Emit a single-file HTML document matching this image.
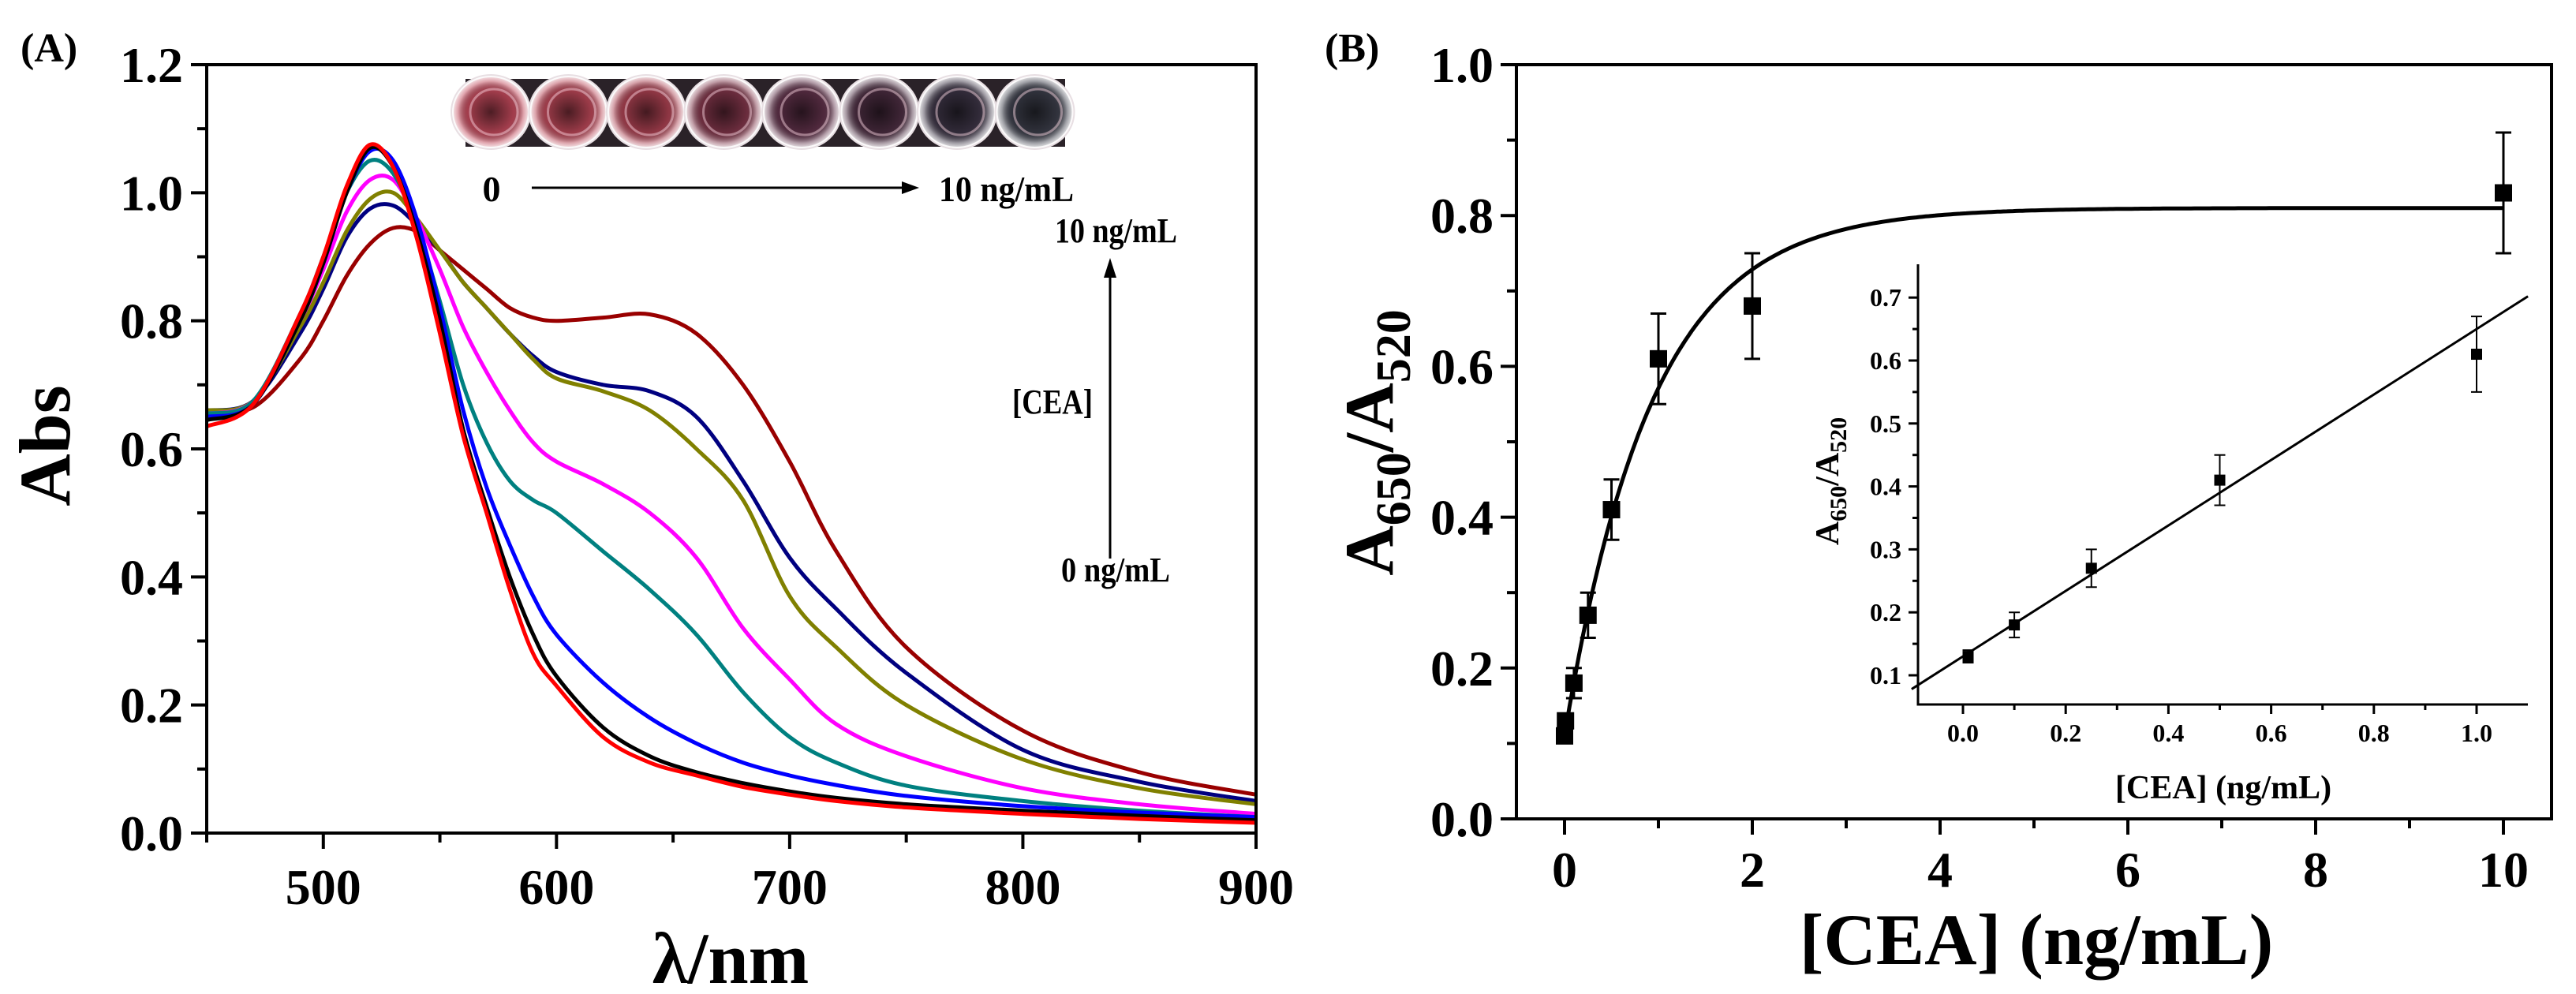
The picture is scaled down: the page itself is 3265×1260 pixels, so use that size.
<!DOCTYPE html>
<html><head><meta charset="utf-8"><style>
html,body{margin:0;padding:0;background:#fff;}
svg text{font-family:"Liberation Serif",serif;font-weight:bold;fill:#000;}
</style></head><body>
<svg id="fig" xmlns="http://www.w3.org/2000/svg" width="3265" height="1255" viewBox="0 0 3265 1255">
<defs>
<radialGradient id="wellg" cx="50%" cy="50%" r="50%"><stop offset="0%" stop-color="#000" stop-opacity="0.6"/><stop offset="60%" stop-color="#000" stop-opacity="0.15"/><stop offset="85%" stop-color="#fff" stop-opacity="0.5"/><stop offset="100%" stop-color="#fff" stop-opacity="0.9"/></radialGradient>
</defs>
<g id="panelA"></g>
<g id="panelB"></g>
</svg>
<script>
// ---------- Panel A data ----------
const wavelengths = [450,470,490,500,510,520,530,540,550,560,570,580,590,600,620,640,660,680,700,720,750,800,850,900];
const absRed     = [.635,.67,.81,.90,1.01,1.075,1.04,.93,.78,.62,.50,.38,.28,.23,.15,.11,.09,.072,.06,.05,.04,.03,.022,.016];
const absBlack   = [.645,.67,.80,.89,1.0,1.07,1.04,.94,.80,.63,.51,.40,.31,.245,.165,.12,.095,.078,.065,.055,.045,.035,.027,.02];
const absBlue    = [.65,.67,.80,.89,1.0,1.065,1.05,.96,.82,.66,.54,.45,.37,.31,.235,.18,.14,.11,.09,.075,.058,.042,.032,.025];
const absTeal    = [.655,.675,.81,.90,1.0,1.05,1.03,.95,.83,.70,.61,.55,.52,.50,.44,.38,.31,.22,.15,.11,.074,.05,.035,.025];
const absMagenta = [.655,.675,.80,.88,.97,1.02,1.02,.96,.88,.79,.72,.66,.61,.58,.545,.50,.43,.32,.24,.17,.12,.07,.045,.03];
const absOlive   = [.66,.675,.79,.86,.94,.99,1.0,.96,.91,.86,.82,.78,.74,.71,.69,.66,.60,.52,.37,.29,.20,.115,.07,.045];
const absNavy    = [.66,.675,.78,.85,.93,.975,.98,.95,.91,.86,.82,.78,.745,.72,.70,.69,.65,.55,.43,.35,.25,.13,.08,.05];
const absDarkred = [.66,.665,.74,.80,.87,.92,.945,.94,.91,.88,.85,.82,.805,.80,.805,.81,.78,.70,.58,.44,.29,.16,.095,.06];
const seriesNames = ["0","0.01","0.1","0.25","0.5","1","2","10"];
const seriesColors = ["#ff0000","#000000","#0000ff","#008080","#ff00ff","#808000","#000080","#990000"];
const xTicksA = [500,600,700,800,900];
const yTicksA = ["0.0","0.2","0.4","0.6","0.8","1.0","1.2"];

// ---------- Panel B data ----------
const concB = [0,0.01,0.1,0.25,0.5,1,2,10];
const ratioB = [0.11,0.13,0.18,0.27,0.41,0.61,0.68,0.83];
const errB = [0,0,0.02,0.03,0.04,0.06,0.07,0.08];
const fitTop = 0.81, fitBase = 0.11, fitTau = 0.93;
const xTicksB = [0,2,4,6,8,10];
const yTicksB = ["0.0","0.2","0.4","0.6","0.8","1.0"];
const concInset = [0.01,0.1,0.25,0.5,1.0];
const ratioInset = [0.13,0.18,0.27,0.41,0.61];
const errInset = [0.01,0.02,0.03,0.04,0.06];
const linSlope = 0.52, linIntercept = 0.13;
const xTicksInset = ["0.0","0.2","0.4","0.6","0.8","1.0"];
const yTicksInset = ["0.1","0.2","0.3","0.4","0.5","0.6","0.7"];

const NS="http://www.w3.org/2000/svg";
function mk(parent,tag,attrs,text){const e=document.createElementNS(NS,tag);for(const k in attrs)e.setAttribute(k,attrs[k]);if(text!==undefined)e.textContent=text;parent.appendChild(e);return e;}

// ===== Panel A =====
const A=document.getElementById('panelA');
const AL=262,AR=1592,AT=82,AB=1056;
const axA=v=>AL+(v-450)/450*(AR-AL);
const ayA=v=>AB-v/1.2*(AB-AT);

// photo strip
const photo=mk(A,'g',{});


mk(photo,'rect',{x:590,y:100,width:760,height:86,fill:'#2a2228'});
const wellCols=["#c0485a","#b84656","#a94050","#7e3448","#5e3048","#4a2c40","#3b3344","#3a3c48"];
for(let i=0;i<8;i++){
  const cx=622+i*98.5, cy=142;
  const w=mk(photo,'ellipse',{cx:cx,cy:cy,rx:49,ry:46,fill:wellCols[i],stroke:'#e8dfe3','stroke-width':4});
  
  
  mk(photo,'ellipse',{cx:cx,cy:cy,rx:49,ry:46,fill:'url(#wellg)'});
  mk(photo,'ellipse',{cx:cx+4,cy:cy,rx:30,ry:29,fill:'none',stroke:'rgba(255,220,230,0.45)','stroke-width':3});
}
let t;
t=mk(A,'text',{x:623,y:255,'font-size':46,'text-anchor':'middle'},'0');

mk(A,'line',{x1:674,y1:238,x2:1145,y2:238,stroke:'#000','stroke-width':3});
mk(A,'polygon',{points:'1165,238 1143,230 1143,246',fill:'#000'});
t=mk(A,'text',{x:1190,y:255,'font-size':46,textLength:171,lengthAdjust:'spacingAndGlyphs'},'10 ng/mL');

t=mk(A,'text',{x:1337,y:307,'font-size':44,textLength:155,lengthAdjust:'spacingAndGlyphs'},'10 ng/mL');

mk(A,'line',{x1:1407,y1:350,x2:1407,y2:708,stroke:'#000','stroke-width':3});
mk(A,'polygon',{points:'1407,327 1399,352 1415,352',fill:'#000'});
t=mk(A,'text',{x:1283,y:524,'font-size':44,textLength:102,lengthAdjust:'spacingAndGlyphs'},'[CEA]');

t=mk(A,'text',{x:1345,y:737,'font-size':44,textLength:138,lengthAdjust:'spacingAndGlyphs'},'0 ng/mL');


// curves (Catmull-Rom)
function crPath(xs,ys){
  const P=xs.map((x,i)=>[x,ys[i]]);
  let d='M'+P[0][0].toFixed(1)+','+P[0][1].toFixed(1);
  for(let i=0;i<P.length-1;i++){
    const p0=P[Math.max(0,i-1)],p1=P[i],p2=P[i+1],p3=P[Math.min(P.length-1,i+2)];
    const c1=[p1[0]+(p2[0]-p0[0])/6,p1[1]+(p2[1]-p0[1])/6];
    const c2=[p2[0]-(p3[0]-p1[0])/6,p2[1]-(p3[1]-p1[1])/6];
    d+=' C'+c1[0].toFixed(1)+','+c1[1].toFixed(1)+' '+c2[0].toFixed(1)+','+c2[1].toFixed(1)+' '+p2[0].toFixed(1)+','+p2[1].toFixed(1);
  }
  return d;
}
const allSeries=[absRed,absBlack,absBlue,absTeal,absMagenta,absOlive,absNavy,absDarkred];
const drawOrder=[7,6,5,4,3,2,1,0];
drawOrder.forEach(i=>{
  const p=mk(A,'path',{d:crPath(wavelengths.map(axA),allSeries[i].map(ayA)),fill:'none',stroke:seriesColors[i],'stroke-width':5,'stroke-linejoin':'round'});
  
  
});

// axes A
const fA=mk(A,'rect',{x:AL,y:AT,width:AR-AL,height:AB-AT,fill:'none',stroke:'#000','stroke-width':4});

for(let v=450;v<=900;v+=50){const x=axA(v);const maj=v%100===0;mk(A,'line',{x1:x,y1:AB,x2:x,y2:AB+(maj?20:12),stroke:'#000','stroke-width':4});}
xTicksA.forEach(v=>{const tt=mk(A,'text',{x:axA(v),y:1146,'font-size':64,'text-anchor':'middle'},String(v));
  });
for(let k=0;k<=12;k++){const y=ayA(k*0.1);mk(A,'line',{x1:AL,y1:y,x2:AL-(k%2===0?20:12),y2:y,stroke:'#000','stroke-width':4});}
yTicksA.forEach(s=>{const tt=mk(A,'text',{x:232,y:ayA(parseFloat(s))+22,'font-size':64,'text-anchor':'end'},s);
  });
t=mk(A,'text',{x:0,y:0,'font-size':92,'text-anchor':'middle',transform:'translate(88,565) rotate(-90)'},'Abs');

t=mk(A,'text',{x:926,y:1246,'font-size':92,'text-anchor':'middle'},'λ/nm');

t=mk(A,'text',{x:26,y:78,'font-size':52},'(A)');


// ===== Panel B =====
const B=document.getElementById('panelB');
const BL=1922,BR=3234,BT=82,BB=1038;
const bx=v=>1983+v*119;
const by=v=>BB-v*(BB-BT);
const fB=mk(B,'rect',{x:BL,y:BT,width:BR-BL,height:BB-BT,fill:'none',stroke:'#000','stroke-width':4});

for(let v=0;v<=10;v++){const x=bx(v);mk(B,'line',{x1:x,y1:BB,x2:x,y2:BB+(v%2===0?20:12),stroke:'#000','stroke-width':4});}
xTicksB.forEach(v=>{const tt=mk(B,'text',{x:bx(v),y:1124,'font-size':64,'text-anchor':'middle'},String(v));
  });
for(let k=0;k<=10;k++){const y=by(k*0.1);mk(B,'line',{x1:BL,y1:y,x2:BL-(k%2===0?20:12),y2:y,stroke:'#000','stroke-width':4});}
yTicksB.forEach(s=>{const tt=mk(B,'text',{x:1893,y:by(parseFloat(s))+22,'font-size':64,'text-anchor':'end'},s);
  });
t=mk(B,'text',{x:0,y:0,'font-size':88,'text-anchor':'middle',transform:'translate(1765,561) rotate(-90)'});

t.innerHTML='A<tspan font-size="62" dy="22">650</tspan><tspan dy="-22">/A</tspan><tspan font-size="62" dy="22">520</tspan>';
t=mk(B,'text',{x:2581,y:1222,'font-size':92,'text-anchor':'middle'},'[CEA] (ng/mL)');

t=mk(B,'text',{x:1679,y:78,'font-size':52},'(B)');

// fit curve
let d='';
for(let i=0;i<=300;i++){const x=0.02+i*(10-0.02)/300;const y=fitTop-(fitTop-fitBase)*Math.exp(-x/fitTau);d+=(i?' L':'M')+bx(x).toFixed(1)+','+by(y).toFixed(1);}
const fit=mk(B,'path',{d:d,fill:'none',stroke:'#000','stroke-width':5});

concB.forEach((c,i)=>{
  const x=bx(c),y=by(ratioB[i]);
  if(errB[i]>0){
    const e=mk(B,'path',{d:`M${x},${by(ratioB[i]+errB[i])}V${by(ratioB[i]-errB[i])}M${x-10},${by(ratioB[i]+errB[i])}h20M${x-10},${by(ratioB[i]-errB[i])}h20`,stroke:'#000','stroke-width':3,fill:'none'});
    
  }
  const m=mk(B,'rect',{x:x-11,y:y-11,width:22,height:22,fill:'#000'});
  
});

// inset
const IL=2431,IR=3204,IT=335,IB=893;
const ix=v=>2488+v*651;
const iy=v=>856-(v-0.1)*798;
const ia=mk(B,'path',{d:`M${IL},${IT}V${IB}H${IR}`,fill:'none',stroke:'#000','stroke-width':3});

for(let k=-1;k<=10;k++){const x=ix(k*0.1);if(x<IL)continue;mk(B,'line',{x1:x,y1:IB,x2:x,y2:IB+(k%2===0?12:7),stroke:'#000','stroke-width':3});}
xTicksInset.forEach(s=>{const tt=mk(B,'text',{x:ix(parseFloat(s)),y:940,'font-size':32,'text-anchor':'middle'},s);
  });
for(let k=1;k<=14;k++){const v=k*0.05;const y=iy(v);if(y>IB||y<IT)continue;mk(B,'line',{x1:IL,y1:y,x2:IL-(k%2===0?12:7),y2:y,stroke:'#000','stroke-width':3});}
yTicksInset.forEach(s=>{const tt=mk(B,'text',{x:2410,y:iy(parseFloat(s))+11,'font-size':32,'text-anchor':'end'},s);
  });
t=mk(B,'text',{x:2818,y:1012,'font-size':42,'text-anchor':'middle'},'[CEA] (ng/mL)');

t=mk(B,'text',{x:0,y:0,'font-size':42,'text-anchor':'middle',transform:'translate(2330,610) rotate(-90)'});

t.innerHTML='A<tspan font-size="30" dy="10">650</tspan><tspan dy="-10">/A</tspan><tspan font-size="30" dy="10">520</tspan>';
const x0=-0.1,x1=1.1;
const ln=mk(B,'line',{x1:ix(x0),y1:iy(linIntercept+linSlope*x0),x2:ix(x1),y2:iy(linIntercept+linSlope*x1),stroke:'#000','stroke-width':3});

concInset.forEach((c,i)=>{
  const x=ix(c),y=iy(ratioInset[i]);
  const e=mk(B,'path',{d:`M${x},${iy(ratioInset[i]+errInset[i])}V${iy(ratioInset[i]-errInset[i])}M${x-7},${iy(ratioInset[i]+errInset[i])}h14M${x-7},${iy(ratioInset[i]-errInset[i])}h14`,stroke:'#000','stroke-width':2,fill:'none'});
  
  const m=mk(B,'rect',{x:x-7,y:y-7,width:14,height:14,fill:'#000'});
  
});
</script>
</body></html>
